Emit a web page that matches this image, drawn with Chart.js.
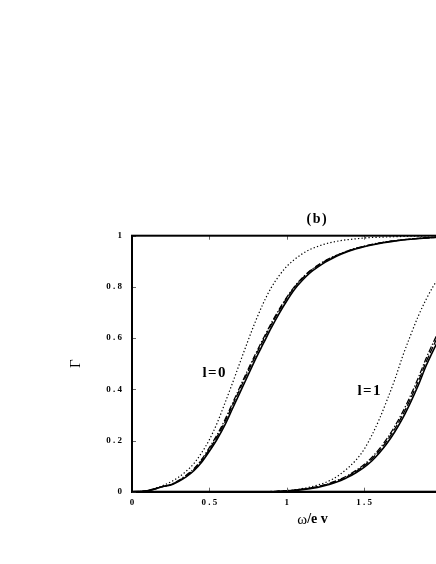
<!DOCTYPE html>
<html>
<head>
<meta charset="utf-8">
<script src="https://cdn.jsdelivr.net/npm/chart.js@4.4.1/dist/chart.umd.min.js"></script>
<style>
  html, body { margin: 0; padding: 0; background: #fff; overflow: hidden; width: 436px; height: 564px; }
  #wrap { position: absolute; left: 0; top: 0; width: 480px; height: 564px; }
</style>
</head>
<body>
<div id="wrap"><canvas id="c" width="480" height="564"></canvas></div>
<script>
// ---- data ----
const omega = [0,0.05,0.1,0.15,0.2,0.25,0.3,0.35,0.4,0.45,0.5,0.55,0.6,0.65,0.7,0.75,0.8,0.85,0.9,0.95,1.0,1.05,1.1,1.15,1.2,1.25,1.3,1.35,1.4,1.45,1.5,1.55,1.6,1.65,1.7,1.75,1.8,1.85,1.9,1.95,2.0];

const l0Dotted  = [0,0.001,0.005,0.013,0.024,0.038,0.056,0.08,0.11,0.152,0.203,0.268,0.345,0.425,0.508,0.59,0.668,0.738,0.797,0.843,0.88,0.907,0.929,0.946,0.958,0.968,0.975,0.981,0.985,0.988,0.991,0.993,0.994,0.995,0.996,0.997,0.998,0.998,0.999,0.999,0.999];
const l0Solid   = [0,0.001,0.004,0.011,0.02,0.026,0.04,0.058,0.082,0.115,0.158,0.205,0.26,0.325,0.39,0.455,0.52,0.58,0.64,0.695,0.745,0.79,0.825,0.855,0.877,0.897,0.913,0.927,0.939,0.949,0.957,0.964,0.97,0.975,0.979,0.983,0.986,0.989,0.991,0.993,0.995];
const l0Dashed  = [0,0.001,0.004,0.011,0.02,0.027,0.042,0.061,0.086,0.121,0.166,0.215,0.272,0.338,0.404,0.469,0.533,0.593,0.652,0.706,0.755,0.798,0.832,0.861,0.882,0.901,0.916,0.93,0.941,0.951,0.958,0.965,0.971,0.976,0.98,0.984,0.987,0.989,0.991,0.993,0.995];
const l0DashDot = [0,0.001,0.004,0.012,0.021,0.028,0.044,0.064,0.09,0.126,0.172,0.222,0.28,0.346,0.412,0.477,0.54,0.6,0.658,0.711,0.759,0.801,0.835,0.863,0.884,0.903,0.918,0.931,0.942,0.952,0.959,0.966,0.972,0.977,0.981,0.984,0.987,0.99,0.992,0.993,0.995];

const l1Dotted  = [null,null,null,null,null,null,null,null,null,null,null,null,null,null,null,null,null,0,0.001,0.002,0.004,0.007,0.012,0.018,0.026,0.036,0.05,0.07,0.095,0.125,0.165,0.22,0.285,0.36,0.44,0.53,0.61,0.685,0.75,0.805,0.85];
const l1Solid   = [null,null,null,null,null,null,null,null,null,null,null,null,null,null,null,null,null,0,0,0.001,0.003,0.005,0.008,0.012,0.017,0.024,0.033,0.044,0.058,0.075,0.095,0.12,0.152,0.19,0.235,0.287,0.348,0.415,0.49,0.555,0.615];
const l1Dashed  = [null,null,null,null,null,null,null,null,null,null,null,null,null,null,null,null,null,0,0,0.002,0.004,0.006,0.01,0.014,0.02,0.027,0.036,0.048,0.062,0.08,0.101,0.128,0.161,0.2,0.247,0.3,0.362,0.43,0.505,0.572,0.634];
const l1DashDot = [null,null,null,null,null,null,null,null,null,null,null,null,null,null,null,null,null,0,0,0.002,0.004,0.006,0.01,0.014,0.02,0.028,0.038,0.05,0.065,0.084,0.106,0.134,0.168,0.209,0.257,0.312,0.375,0.444,0.519,0.586,0.647];

const xTickValues = [0, 0.5, 1, 1.5, 2];
const xTickLabels = ['0', '0 . 5', '1', '1 . 5', '2'];
const yTickValues = [0, 0.2, 0.4, 0.6, 0.8, 1];
const yTickLabels = ['0', '0 . 2', '0 . 4', '0 . 6', '0 . 8', '1'];

const panelLabel = '(b)';
const xAxisTitleSymbol = 'ω';
const xAxisTitleRest = '/e v';
const yAxisTitle = 'Γ';
const curveLabels = [
  { text: 'l=0', x: 0.53, y: 0.464 },
  { text: 'l=1', x: 1.532, y: 0.393 }
];

// ---- helpers ----
const pts = (ys) => omega.map((x, i) => ({ x: x, y: ys[i] }));
const SERIF = '"Liberation Serif", "DejaVu Serif", serif';

function ds(label, ys, dash, width) {
  return {
    label: label,
    data: pts(ys),
    borderColor: '#000',
    backgroundColor: '#000',
    borderWidth: width,
    borderDash: dash,
    pointRadius: 0,
    fill: false,
    cubicInterpolationMode: 'monotone',
    spanGaps: false
  };
}

function spacing(ctx, v) { if ('letterSpacing' in ctx) ctx.letterSpacing = v; }

const decor = {
  id: 'decor',
  afterDraw(chart) {
    const { ctx, chartArea: a, scales: { x, y } } = chart;
    ctx.save();
    // inward ticks
    ctx.strokeStyle = '#666';
    ctx.lineWidth = 1;
    ctx.beginPath();
    xTickValues.forEach(v => {
      const px = Math.round(x.getPixelForValue(v)) + 0.5;
      ctx.moveTo(px, a.bottom); ctx.lineTo(px, a.bottom - 4);
      ctx.moveTo(px, a.top); ctx.lineTo(px, a.top + 4);
    });
    yTickValues.forEach(v => {
      const py = Math.round(y.getPixelForValue(v)) + 0.5;
      ctx.moveTo(a.left, py); ctx.lineTo(a.left + 4, py);
      ctx.moveTo(a.right, py); ctx.lineTo(a.right - 4, py);
    });
    ctx.stroke();
    // frame
    ctx.strokeStyle = '#000';
    ctx.lineWidth = 2;
    ctx.strokeRect(a.left, a.top, a.right - a.left, a.bottom - a.top);
    // texts
    ctx.fillStyle = '#000';
    ctx.textBaseline = 'middle';
    ctx.textAlign = 'center';
    ctx.font = 'bold 15px ' + SERIF;
    spacing(ctx, '1.5px');
    curveLabels.forEach(l => {
      ctx.fillText(l.text, x.getPixelForValue(l.x) + 0.75, y.getPixelForValue(l.y));
    });
    ctx.font = 'bold 14px ' + SERIF;
    spacing(ctx, '1.5px');
    ctx.fillText(panelLabel, x.getPixelForValue(1.193) + 0.75, a.top - 16);
    // x axis title: regular omega + bold rest
    spacing(ctx, '0px');
    ctx.textAlign = 'left';
    ctx.font = '15px ' + SERIF;
    const wSym = ctx.measureText(xAxisTitleSymbol).width;
    ctx.font = 'bold 14px ' + SERIF;
    const wRest = ctx.measureText(xAxisTitleRest).width;
    const cx = x.getPixelForValue(1.167);
    const x0 = cx - (wSym + wRest) / 2;
    const ty = a.bottom + 28;
    ctx.font = '15px ' + SERIF;
    ctx.fillText(xAxisTitleSymbol, x0, ty);
    ctx.font = 'bold 14px ' + SERIF;
    ctx.fillText(xAxisTitleRest, x0 + wSym, ty);
    ctx.restore();
  }
};

new Chart(document.getElementById('c'), {
  type: 'line',
  data: {
    datasets: [
      ds('l0 dotted', l0Dotted, [1.3, 2.2], 1.2),
      ds('l0 dashed', l0Dashed, [7, 2.5], 1.3),
      ds('l0 dash-dot', l0DashDot, [6, 2, 1.3, 2], 1.3),
      ds('l0 solid', l0Solid, [], 1.6),
      ds('l1 dotted', l1Dotted, [1.3, 2.2], 1.2),
      ds('l1 dashed', l1Dashed, [7, 2.5], 1.3),
      ds('l1 dash-dot', l1DashDot, [6, 2, 1.3, 2], 1.3),
      ds('l1 solid', l1Solid, [], 1.6)
    ]
  },
  options: {
    responsive: false,
    animation: false,
    devicePixelRatio: 1,
    layout: { padding: { left: 0, right: 38.6, top: 235.7, bottom: 0 } },
    plugins: { legend: { display: false }, tooltip: { enabled: false }, title: { display: false } },
    scales: {
      x: {
        type: 'linear', min: 0, max: 2,
        afterFit: (s) => { s.height = 72.3; },
        afterBuildTicks: (s) => { s.ticks = xTickValues.map(v => ({ value: v })); },
        ticks: {
          color: '#000', padding: 6, maxRotation: 0, autoSkip: false,
          font: { family: SERIF, size: 9, weight: 'bold' },
          callback: (v) => xTickLabels[xTickValues.indexOf(v)]
        },
        grid: { drawOnChartArea: false, drawTicks: false },
        border: { display: true, color: '#000', width: 2 }
      },
      y: {
        type: 'linear', min: 0, max: 1,
        afterFit: (s) => { s.width = 132; },
        afterBuildTicks: (s) => { s.ticks = yTickValues.map(v => ({ value: v })); },
        ticks: {
          color: '#000', padding: 10, autoSkip: false,
          font: { family: SERIF, size: 9, weight: 'bold' },
          callback: (v) => yTickLabels[yTickValues.indexOf(v)]
        },
        title: {
          display: true, text: yAxisTitle, color: '#000',
          font: { family: SERIF, size: 15 },
          padding: { top: 67, bottom: 0 }
        },
        grid: { drawOnChartArea: false, drawTicks: false },
        border: { display: true, color: '#000', width: 2 }
      }
    }
  },
  plugins: [decor]
});
</script>
</body>
</html>
